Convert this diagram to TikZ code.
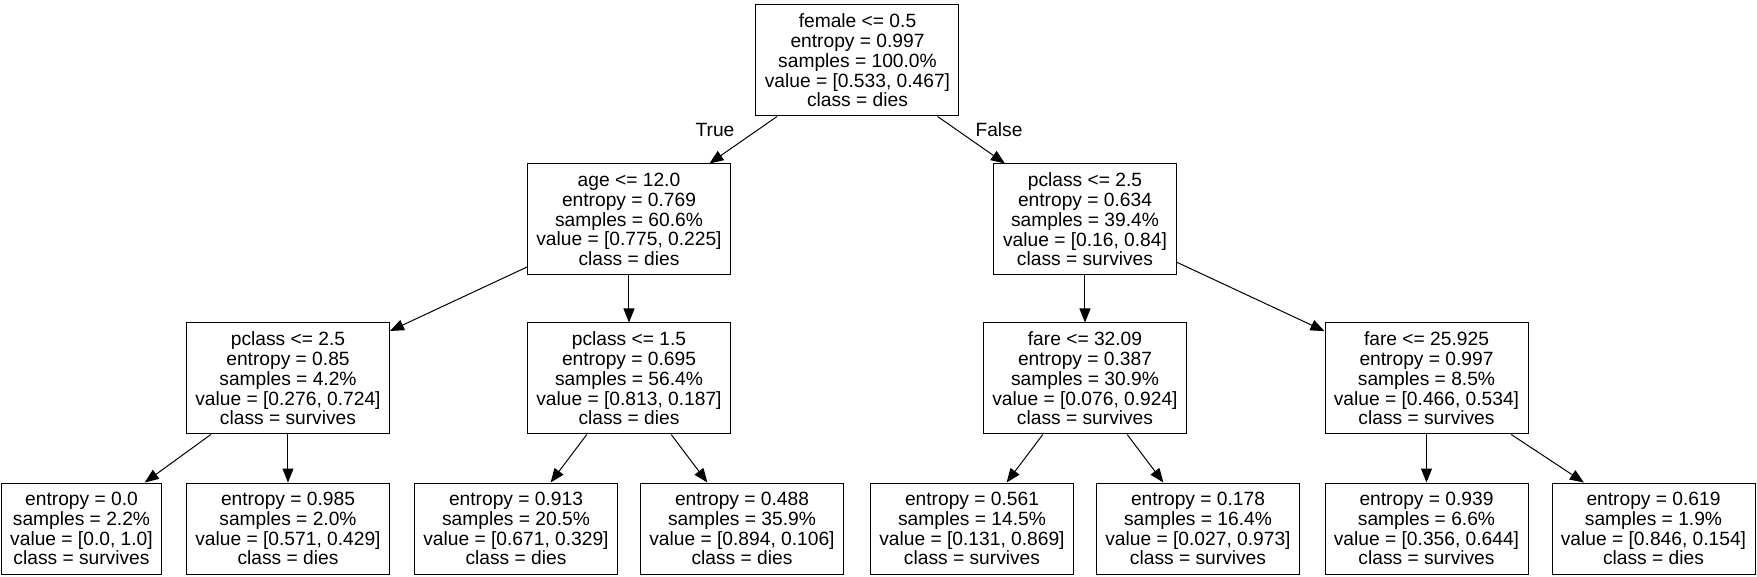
\documentclass[tikz,border=0pt]{standalone}
\usepackage{fontspec}
\setmainfont{Liberation Sans}
\usepackage{tikz}
\usetikzlibrary{arrows.meta,positioning}
\definecolor{inkblack}{HTML}{000000}
\tikzset{
  splitnode/.style={
    rectangle, draw=inkblack, line width=0.5pt,
    fill=white, align=center, inner sep=1pt,
    minimum width=101.5pt, minimum height=55.5pt,
    font=\fontsize{9.6pt}{9.9pt}\selectfont
  },
  leafnode/.style={
    splitnode, minimum height=45.5pt
  },
  treearrow/.style={-{Triangle[length=7pt,width=5.5pt]}, line width=0.5pt, color=inkblack},
  edgelabel/.style={inner sep=0pt, font=\fontsize{9.6pt}{9.9pt}\selectfont},
}

\begin{document}
\begin{tikzpicture}[node distance=23.5pt]
  \useasboundingbox (-428.75pt,-258.25pt) rectangle (449.75pt,30.25pt);
  \node[splitnode] (root) {female <= 0.5\\entropy = 0.997\\samples = 100.0\%\\value = [0.533, 0.467]\\class = dies};
  \node[splitnode, below left=23.5pt and 12.25pt of root] (age) {age <= 12.0\\entropy = 0.769\\samples = 60.6\%\\value = [0.775, 0.225]\\class = dies};
  \node[splitnode, minimum width=91pt, below right=23.5pt and 17pt of root] (pcb) {pclass <= 2.5\\entropy = 0.634\\samples = 39.4\%\\value = [0.16, 0.84]\\class = survives};
  \node[splitnode, below left=23.5pt and 68.5pt of age] (pca) {pclass <= 2.5\\entropy = 0.85\\samples = 4.2\%\\value = [0.276, 0.724]\\class = survives};
  \node[splitnode, below=of age] (pcc) {pclass <= 1.5\\entropy = 0.695\\samples = 56.4\%\\value = [0.813, 0.187]\\class = dies};
  \node[splitnode, below=of pcb] (farea) {fare <= 32.09\\entropy = 0.387\\samples = 30.9\%\\value = [0.076, 0.924]\\class = survives};
  \node[splitnode, below right=23.5pt and 74pt of pcb] (fareb) {fare <= 25.925\\entropy = 0.997\\samples = 8.5\%\\value = [0.466, 0.534]\\class = survives};

  \node[leafnode, minimum width=80pt, below left=24pt and 12pt of pca] (lfa) {entropy = 0.0\\samples = 2.2\%\\value = [0.0, 1.0]\\class = survives};
  \node[leafnode, below=24pt of pca] (lfb) {entropy = 0.985\\samples = 2.0\%\\value = [0.571, 0.429]\\class = dies};
  \node[leafnode, below=24pt of pcc, xshift=-56.5pt] (lfc) {entropy = 0.913\\samples = 20.5\%\\value = [0.671, 0.329]\\class = dies};
  \node[leafnode, below=24pt of pcc, xshift=56.5pt] (lfd) {entropy = 0.488\\samples = 35.9\%\\value = [0.894, 0.106]\\class = dies};
  \node[leafnode, below=24pt of farea, xshift=-56.5pt] (lfe) {entropy = 0.561\\samples = 14.5\%\\value = [0.131, 0.869]\\class = survives};
  \node[leafnode, below=24pt of farea, xshift=56.5pt] (lff) {entropy = 0.178\\samples = 16.4\%\\value = [0.027, 0.973]\\class = survives};
  \node[leafnode, below=24pt of fareb] (lfg) {entropy = 0.939\\samples = 6.6\%\\value = [0.356, 0.644]\\class = survives};
  \node[leafnode, below right=24pt and 11.5pt of fareb] (lfh) {entropy = 0.619\\samples = 1.9\%\\value = [0.846, 0.154]\\class = dies};

  \node[edgelabel] (truelbl) at ([shift={(-71.25pt,-34.75pt)}]root.center) {True};
  \node[edgelabel] (falselbl) at ([shift={(70.75pt,-34.75pt)}]root.center) {False};

  \draw[treearrow] (root) -- (age);
  \draw[treearrow] (root) -- (pcb);
  \draw[treearrow] (age) -- (pca);
  \draw[treearrow] (age) -- (pcc);
  \draw[treearrow] (pcb) -- (farea);
  \draw[treearrow] (pcb) -- (fareb);
  \draw[treearrow] (pca) -- (lfa);
  \draw[treearrow] (pca) -- (lfb);
  \draw[treearrow] (pcc) -- (lfc);
  \draw[treearrow] (pcc) -- (lfd);
  \draw[treearrow] (farea) -- (lfe);
  \draw[treearrow] (farea) -- (lff);
  \draw[treearrow] (fareb) -- (lfg);
  \draw[treearrow] (fareb) -- (lfh);
\end{tikzpicture}
\end{document}
